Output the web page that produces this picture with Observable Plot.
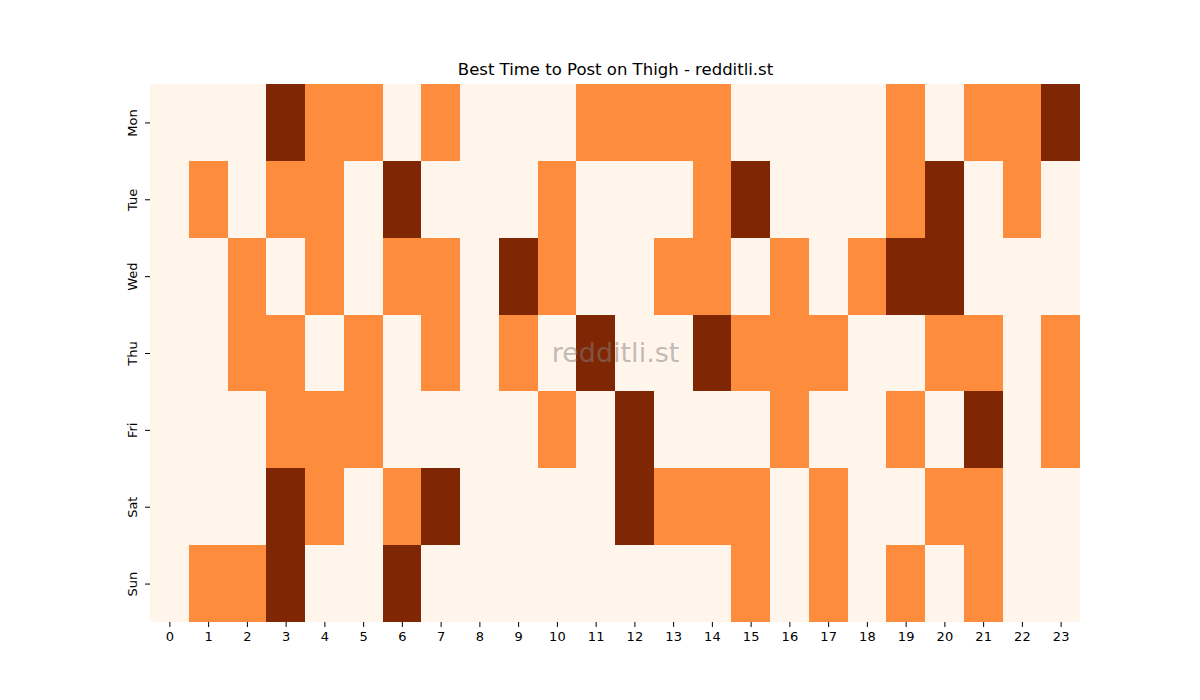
<!DOCTYPE html>
<html>
<head>
<meta charset="utf-8">
<script src="https://cdn.jsdelivr.net/npm/d3@7"></script>
<script src="https://cdn.jsdelivr.net/npm/@observablehq/plot@0.6"></script>
<style>
  html, body { margin: 0; padding: 0; background: #fff; overflow: hidden; }
  #chart { width: 1200px; height: 700px; }
</style>
</head>
<body>
<div id="chart"></div>
<script>
const days = ["Mon", "Tue", "Wed", "Thu", "Fri", "Sat", "Sun"];
const hours = d3.range(24);
// level per hour: 0 = low, 1 = medium, 2 = high
const mon = [0,0,0,2,1,1,0,1,0,0,0,1,1,1,1,0,0,0,0,1,0,1,1,2];
const tue = [0,1,0,1,1,0,2,0,0,0,1,0,0,0,1,2,0,0,0,1,2,0,1,0];
const wed = [0,0,1,0,1,0,1,1,0,2,1,0,0,1,1,0,1,0,1,2,2,0,0,0];
const thu = [0,0,1,1,0,1,0,1,0,1,0,2,0,0,2,1,1,1,0,0,1,1,0,1];
const fri = [0,0,0,1,1,1,0,0,0,0,1,0,2,0,0,0,1,0,0,1,0,2,0,1];
const sat = [0,0,0,2,1,0,1,2,0,0,0,0,2,1,1,1,0,1,0,0,1,1,0,0];
const sun = [0,1,1,2,0,0,2,0,0,0,0,0,0,0,0,1,0,1,0,1,0,1,0,0];
const levels = [0, 1, 2];
const levelColors = ["#fff5eb", "#fd8d3c", "#7f2704"];
const title = "Best Time to Post on Thigh - redditli.st";
const watermark = "redditli.st";

const rows = [mon, tue, wed, thu, fri, sat, sun];
const data = [];
rows.forEach((r, i) => r.forEach((v, h) => data.push({day: days[i], hour: hours[h], value: v})));

const chart = Plot.plot({
  width: 1200,
  height: 700,
  marginLeft: 150,
  marginRight: 120,
  marginTop: 84,
  marginBottom: 78,
  style: {fontFamily: "DejaVu Sans, sans-serif", fontSize: "13px", background: "#fff", color: "#000"},
  x: {type: "band", domain: hours, padding: 0, round: false, label: null, tickSize: 5, tickPadding: 4},
  y: {type: "band", domain: days, padding: 0, round: false, label: null, tickSize: 5, tickPadding: 9, tickRotate: -90},
  color: {type: "ordinal", domain: levels, range: levelColors},
  marks: [
    Plot.cell(data, {x: "hour", y: "day", fill: "value", inset: 0, shapeRendering: "crispEdges"}),
    Plot.text([title], {frameAnchor: "top", lineAnchor: "middle", dy: -15, fontSize: 16.5, fill: "#000"}),
    Plot.text([watermark], {frameAnchor: "middle", fontSize: 27, fill: "#808080", fillOpacity: 0.5})
  ]
});
document.getElementById("chart").appendChild(chart);
</script>
</body>
</html>
